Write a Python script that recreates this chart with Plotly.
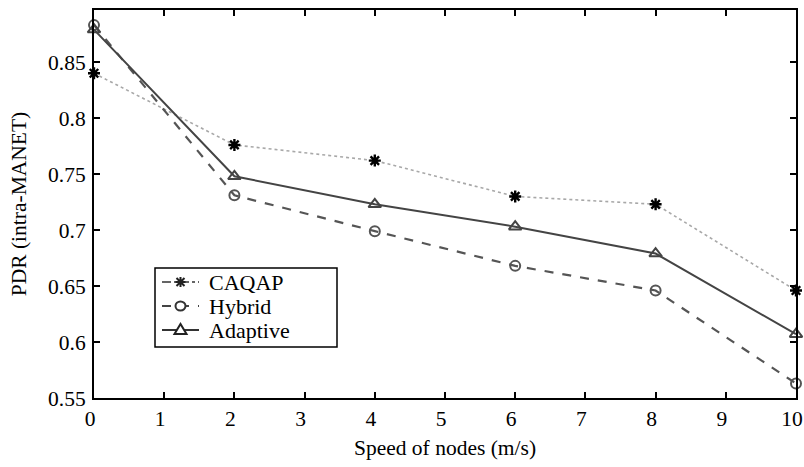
import plotly.graph_objects as go

speed = [0, 2, 4, 6, 8, 10]
caqap = [0.840, 0.776, 0.762, 0.730, 0.723, 0.646]
hybrid = [0.883, 0.731, 0.699, 0.668, 0.646, 0.563]
adaptive = [0.879, 0.748, 0.723, 0.703, 0.679, 0.607]
series_names = ["CAQAP", "Hybrid", "Adaptive"]

x_ticks = list(range(0, 11))
y_ticks = [0.55, 0.6, 0.65, 0.7, 0.75, 0.8, 0.85]
y_labels = ["0.55", "0.6", "0.65", "0.7", "0.75", "0.8", "0.85"]

FONT = "Liberation Serif, Times New Roman, serif"
W, H = 804, 467
ML, MR, MT, MB = 94, 8, 10, 69
PW, PH = W - ML - MR, H - MT - MB

styles = [
    dict(line=dict(color="#a8a8a8", width=1.6, dash="dot"),
         marker=dict(symbol="asterisk-open", size=10, color="black",
                     line=dict(color="black", width=2.4))),
    dict(line=dict(color="#555555", width=2.2, dash="dash"),
         marker=dict(symbol="circle-open", size=10, color="#555555",
                     line=dict(color="#555555", width=2))),
    dict(line=dict(color="#444444", width=2),
         marker=dict(symbol="triangle-up-open", size=11, color="#444444",
                     line=dict(color="#444444", width=2))),
]

fig = go.Figure()
for name, vals, st in zip(series_names, [caqap, hybrid, adaptive], styles):
    fig.add_trace(go.Scatter(x=speed, y=vals, name=name, mode="lines+markers",
                             showlegend=False, cliponaxis=False,
                             hoverinfo="skip", **st))

axis_common = dict(
    showline=True, linecolor="black", linewidth=2, mirror="ticks",
    ticks="inside", ticklen=6, tickwidth=2, tickcolor="black",
    showgrid=False, zeroline=False, automargin=False,
    ticklabeloverflow="allow",
    tickfont=dict(family=FONT, size=21.5, color="black"),
)

# ---- hand-built legend (box, sample lines, sample markers, labels) ----
def px_x(p):
    return (p - ML) / PW

def px_y(p):
    return (H - MB - p) / PH

shapes = []
annotations = []
box = (155, 268, 337, 347)
shapes.append(dict(type="rect", xref="paper", yref="paper",
                   x0=px_x(box[0]), x1=px_x(box[2]),
                   y0=px_y(box[3]), y1=px_y(box[1]),
                   line=dict(color="black", width=1.5), fillcolor="white",
                   layer="above"))
entry_y = [282, 306, 330]
leg_line_styles = [
    dict(color="#333333", width=1.5, dash="dashdot"),
    dict(color="#444444", width=2, dash="dash"),
    dict(color="#333333", width=2),
]
marker_paths = [
    "M-5,0 L5,0 M0,-5 L0,5 M-4,-4 L4,4 M-4,4 L4,-4",
    None,
    "M-6,-4 L6,-4 L0,6 Z",
]
for i, (name, ey) in enumerate(zip(series_names, entry_y)):
    yy = px_y(ey)
    shapes.append(dict(type="line", xref="paper", yref="paper",
                       x0=px_x(162), x1=px_x(199), y0=yy, y1=yy,
                       line=leg_line_styles[i], layer="above"))
    if marker_paths[i] is None:
        shapes.append(dict(type="circle", xref="paper", yref="paper",
                           xsizemode="pixel", ysizemode="pixel",
                           xanchor=px_x(180.5), yanchor=yy,
                           x0=-5, x1=5, y0=-4.5, y1=4.5,
                           line=dict(color="#333333", width=2),
                           fillcolor="white", layer="above"))
    else:
        shapes.append(dict(type="path", xref="paper", yref="paper",
                           xsizemode="pixel", ysizemode="pixel",
                           xanchor=px_x(180.5), yanchor=yy,
                           path=marker_paths[i],
                           line=dict(color="#222222", width=2),
                           fillcolor="white" if i == 2 else None,
                           layer="above"))
    annotations.append(dict(text=name, xref="paper", yref="paper",
                            x=px_x(207), y=yy, xanchor="left", yanchor="middle",
                            showarrow=False,
                            font=dict(family=FONT, size=22, color="black")))

fig.update_layout(
    width=W, height=H,
    margin=dict(l=ML, r=MR, t=MT, b=MB),
    paper_bgcolor="white", plot_bgcolor="white",
    font=dict(family=FONT, size=21.5, color="black"),
    xaxis=dict(range=[0, 10], tickvals=x_ticks, ticklabelshift=-4,
               title=dict(text="Speed of nodes (m/s)", standoff=10,
                          font=dict(family=FONT, size=21.5)),
               **axis_common),
    yaxis=dict(range=[0.55, 0.8965], tickvals=y_ticks, ticktext=y_labels,
               ticklabelstandoff=2,
               title=dict(text="PDR (intra-MANET)", standoff=16,
                          font=dict(family=FONT, size=21.5)),
               **axis_common),
    shapes=shapes,
    annotations=annotations,
    showlegend=False,
)

fig.write_html("out.html", config={"displayModeBar": False},
               post_script="document.body.style.margin='0';"
                           "document.body.style.overflow='hidden';")
